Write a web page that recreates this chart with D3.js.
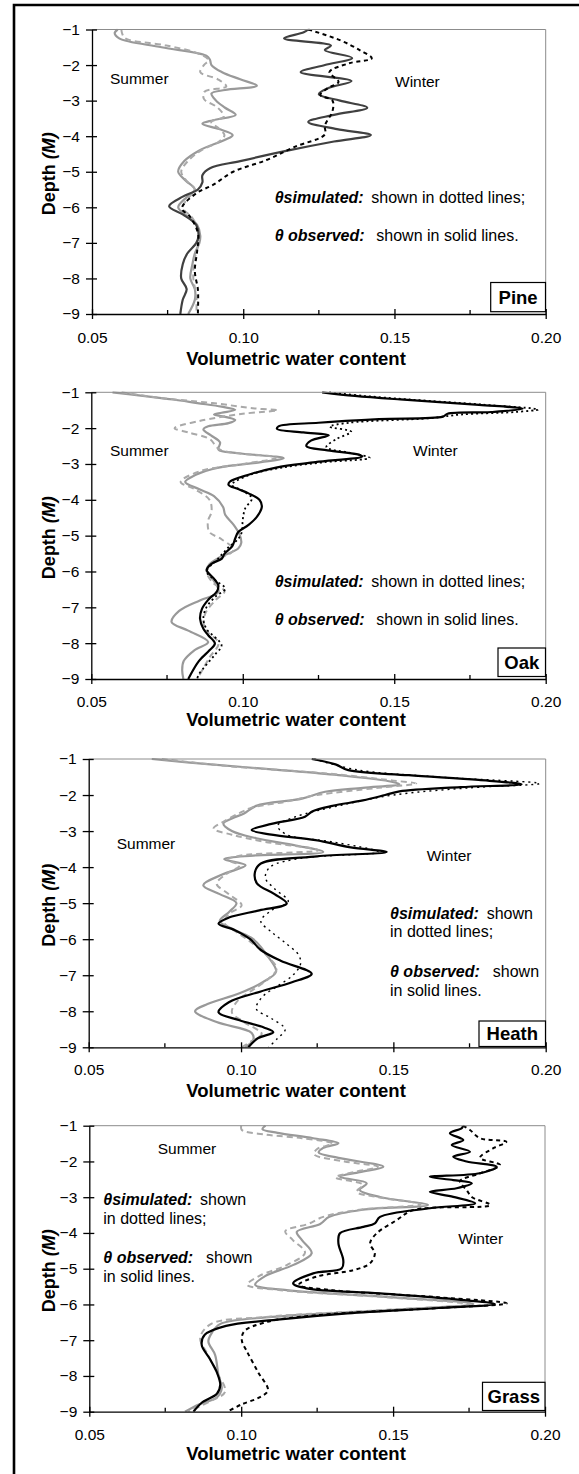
<!DOCTYPE html>
<html>
<head>
<meta charset="utf-8">
<script src="https://cdn.jsdelivr.net/npm/d3@7"></script>
<style>
body { margin: 0; background: #fff; }
svg text { font-family: "Liberation Sans", Arial, sans-serif; fill: #000; }
</style>
</head>
<body>
<svg id="fig" width="579" height="1474"></svg>
<script>
/*jslint browser, white */
/*global d3 */

//Stand names, axis ticks
var panelNames = ["Pine", "Oak", "Heath", "Grass"];
var waterTicks = [0.05, 0.10, 0.15, 0.20];
var waterMinorTicks = [0.075, 0.125, 0.175];
var depthTicks = [-1, -2, -3, -4, -5, -6, -7, -8, -9];

//[depth (m), volumetric water content]
var pineSummerObs = [[-1.0,0.0585],[-1.1,0.0575],[-1.25,0.059],[-1.5,0.073],[-1.74,0.0878],
    [-1.85,0.089],[-2.0,0.0895],[-2.2,0.093],[-2.4,0.099],[-2.58,0.1045],[-2.7,0.094],
    [-2.8,0.0895],[-3.0,0.091],[-3.2,0.094],[-3.4,0.0975],[-3.55,0.090],[-3.65,0.0865],
    [-3.8,0.092],[-3.97,0.0965],[-4.1,0.094],[-4.4,0.0855],[-4.7,0.0805],[-5.0,0.0785],
    [-5.25,0.081],[-5.5,0.084],[-5.7,0.0815],[-6.0,0.0785],[-6.25,0.0815],[-6.5,0.0848],
    [-6.8,0.0858],[-7.0,0.0855],[-7.3,0.084],[-7.6,0.0832],[-8.0,0.0825],[-8.3,0.084],
    [-8.6,0.084],[-9.0,0.0818]];
var pineSummerSim = [[-1.0,0.0597],[-1.12,0.060],[-1.25,0.061],[-1.45,0.0746],[-1.67,0.085],
    [-1.86,0.0885],[-2.0,0.087],[-2.2,0.0858],[-2.4,0.0916],[-2.6,0.0944],[-2.75,0.0872],
    [-2.95,0.087],[-3.2,0.0916],[-3.45,0.0936],[-3.6,0.0894],[-3.8,0.0922],[-3.97,0.0938],
    [-4.15,0.092],[-4.4,0.0861],[-4.7,0.0817],[-5.0,0.0795],[-5.25,0.0812],[-5.5,0.084],
    [-5.75,0.0817],[-6.0,0.080],[-6.3,0.0832],[-6.6,0.085],[-7.0,0.0852],[-7.5,0.0838],
    [-8.0,0.0835],[-8.5,0.0845],[-9.0,0.0845]];
var pineWinterObs = [[-1.0,0.1215],[-1.08,0.120],[-1.25,0.1135],[-1.45,0.129],[-1.58,0.127],
    [-1.8,0.136],[-2.0,0.127],[-2.2,0.119],[-2.45,0.1358],[-2.65,0.128],[-2.82,0.125],
    [-3.0,0.132],[-3.2,0.141],[-3.4,0.130],[-3.6,0.1215],[-3.8,0.131],[-3.97,0.1422],
    [-4.15,0.130],[-4.4,0.115],[-4.7,0.099],[-4.9,0.089],[-5.1,0.0865],[-5.3,0.0865],
    [-5.5,0.085],[-5.7,0.080],[-5.97,0.0755],[-6.2,0.080],[-6.5,0.0845],[-6.8,0.0852],
    [-7.0,0.0845],[-7.3,0.0815],[-7.6,0.080],[-8.0,0.0795],[-8.3,0.0813],[-8.6,0.080],
    [-9.0,0.0792]];
var pineWinterSim = [[-1.0,0.1215],[-1.3,0.132],[-1.58,0.1385],[-1.81,0.1425],[-1.95,0.135],
    [-2.2,0.1285],[-2.47,0.1315],[-2.65,0.128],[-2.84,0.1255],[-3.0,0.1295],[-3.3,0.1295],
    [-3.7,0.127],[-3.95,0.127],[-4.3,0.117],[-4.67,0.1077],[-5.0,0.0967],[-5.37,0.090],
    [-5.6,0.0846],[-6.03,0.0797],[-6.26,0.0824],[-6.75,0.0851],[-7.2,0.0848],[-7.8,0.084],
    [-8.3,0.085],[-8.6,0.0851],[-9.0,0.085]];

var oakSummerObs = [[-1.0,0.057],[-1.1,0.067],[-1.2,0.077],[-1.3,0.085],[-1.4,0.093],
    [-1.49,0.0975],[-1.57,0.093],[-1.62,0.0905],[-1.7,0.095],[-1.77,0.0975],[-1.86,0.0953],
    [-1.95,0.0886],[-2.04,0.087],[-2.2,0.0895],[-2.4,0.0925],[-2.6,0.092],[-2.7,0.0985],
    [-2.84,0.1135],[-2.95,0.106],[-3.1,0.092],[-3.3,0.0845],[-3.5,0.081],[-3.7,0.0855],
    [-3.9,0.0905],[-4.2,0.0935],[-4.42,0.0942],[-4.7,0.097],[-4.98,0.099],[-5.2,0.0995],
    [-5.36,0.0985],[-5.6,0.0925],[-5.8,0.089],[-5.96,0.0881],[-6.2,0.090],[-6.57,0.092],
    [-6.8,0.086],[-7.1,0.079],[-7.41,0.0765],[-7.65,0.082],[-7.97,0.0886],[-8.2,0.084],
    [-8.5,0.0805],[-8.75,0.080],[-9.0,0.0804]];
var oakSummerSim = [[-1.0,0.060],[-1.15,0.072],[-1.3,0.090],[-1.45,0.104],[-1.5,0.1115],
    [-1.6,0.100],[-1.8,0.0857],[-2.0,0.0775],[-2.12,0.082],[-2.3,0.089],[-2.6,0.0925],
    [-2.82,0.111],[-3.0,0.100],[-3.2,0.086],[-3.5,0.0795],[-3.7,0.084],[-4.0,0.089],
    [-4.33,0.0897],[-4.6,0.0885],[-4.9,0.089],[-5.1,0.093],[-5.4,0.097],[-5.7,0.091],
    [-5.96,0.088],[-6.3,0.090],[-6.55,0.094],[-6.8,0.091],[-7.2,0.0875],[-7.6,0.0875],
    [-8.0,0.092],[-8.4,0.089],[-9.0,0.085]];
var oakWinterObs = [[-1.0,0.1262],[-1.1,0.137],[-1.2,0.152],[-1.35,0.178],[-1.46,0.1924],
    [-1.55,0.182],[-1.6,0.1676],[-1.68,0.166],[-1.75,0.145],[-1.85,0.125],[-1.95,0.1118],
    [-2.02,0.1113],[-2.12,0.120],[-2.2,0.1284],[-2.35,0.1225],[-2.5,0.121],[-2.62,0.128],
    [-2.74,0.1383],[-2.79,0.1394],[-2.95,0.124],[-3.1,0.111],[-3.3,0.1019],[-3.49,0.0958],
    [-3.58,0.0953],[-3.7,0.0985],[-3.82,0.1019],[-4.0,0.1055],[-4.19,0.1063],[-4.47,0.1047],
    [-4.7,0.1019],[-4.9,0.0985],[-5.08,0.0975],[-5.3,0.0965],[-5.5,0.094],[-5.64,0.0931],
    [-5.78,0.0898],[-5.96,0.0881],[-6.2,0.0905],[-6.38,0.0919],[-6.55,0.0915],[-6.8,0.0885],
    [-7.05,0.0865],[-7.32,0.0859],[-7.6,0.087],[-7.78,0.0886],[-8.01,0.0908],[-8.2,0.089],
    [-8.5,0.0855],[-9.0,0.082]];
var oakWinterSim = [[-1.0,0.1285],[-1.1,0.140],[-1.2,0.155],[-1.35,0.180],[-1.48,0.1975],
    [-1.55,0.190],[-1.62,0.172],[-1.72,0.162],[-1.85,0.135],[-1.96,0.1287],[-2.1,0.1358],
    [-2.3,0.131],[-2.53,0.1276],[-2.7,0.136],[-2.83,0.1419],[-2.95,0.127],[-3.1,0.113],
    [-3.3,0.1025],[-3.58,0.0964],[-3.75,0.100],[-3.96,0.103],[-4.24,0.1008],[-4.55,0.100],
    [-4.89,0.0997],[-5.08,0.0986],[-5.35,0.095],[-5.64,0.0919],[-6.0,0.0881],[-6.25,0.091],
    [-6.48,0.0942],[-6.7,0.091],[-7.0,0.088],[-7.32,0.087],[-7.6,0.088],[-8.06,0.093],
    [-8.3,0.091],[-8.6,0.088],[-8.9,0.0853],[-9.0,0.085]];

var heathSummerObs = [[-1.0,0.0707],[-1.15,0.090],[-1.3,0.112],[-1.45,0.132],[-1.63,0.1494],
    [-1.7,0.152],[-1.8,0.140],[-1.91,0.1276],[-2.1,0.120],[-2.3,0.105],[-2.51,0.101],
    [-2.65,0.097],[-2.79,0.0942],[-3.0,0.097],[-3.2,0.105],[-3.4,0.118],[-3.58,0.127],
    [-3.68,0.104],[-3.78,0.0945],[-3.95,0.1015],[-4.2,0.094],[-4.5,0.0876],[-4.75,0.093],
    [-5.0,0.0985],[-5.25,0.096],[-5.5,0.093],[-5.75,0.098],[-6.0,0.104],[-6.5,0.109],
    [-6.9,0.1115],[-7.2,0.107],[-7.5,0.0995],[-7.8,0.089],[-8.0,0.0849],[-8.3,0.092],
    [-8.6,0.1035],[-8.8,0.104],[-9.0,0.1013]];
var heathSummerSim = [[-1.0,0.074],[-1.2,0.096],[-1.4,0.128],[-1.6,0.150],[-1.68,0.1575],
    [-1.8,0.145],[-2.0,0.125],[-2.19,0.1144],[-2.35,0.1035],[-2.5,0.0995],[-2.75,0.094],
    [-2.93,0.091],[-3.1,0.097],[-3.3,0.108],[-3.53,0.1254],[-3.68,0.100],[-3.8,0.0955],
    [-3.95,0.0995],[-4.2,0.095],[-4.46,0.092],[-4.75,0.096],[-5.06,0.1002],[-5.3,0.096],
    [-5.55,0.0945],[-5.8,0.0985],[-6.1,0.1035],[-6.5,0.109],[-6.82,0.1117],[-7.1,0.109],
    [-7.4,0.104],[-7.7,0.099],[-8.03,0.097],[-8.3,0.101],[-8.63,0.1068],[-8.8,0.104],
    [-9.0,0.1002]];
var heathWinterObs = [[-1.0,0.1232],[-1.15,0.131],[-1.31,0.1352],[-1.45,0.155],[-1.58,0.178],
    [-1.7,0.1921],[-1.78,0.172],[-1.9,0.152],[-2.0,0.1473],[-2.15,0.140],[-2.3,0.130],
    [-2.45,0.1235],[-2.6,0.121],[-2.8,0.110],[-2.97,0.1035],[-3.1,0.110],[-3.25,0.1245],
    [-3.45,0.136],[-3.58,0.1478],[-3.7,0.125],[-3.9,0.1065],[-4.13,0.1046],[-4.45,0.1052],
    [-4.75,0.111],[-5.01,0.115],[-5.2,0.106],[-5.4,0.096],[-5.57,0.0926],[-5.75,0.098],
    [-6.0,0.103],[-6.3,0.1065],[-6.6,0.113],[-6.96,0.1232],[-7.2,0.1165],[-7.45,0.1065],
    [-7.75,0.096],[-8.03,0.0926],[-8.25,0.0995],[-8.45,0.1075],[-8.58,0.1106],[-8.75,0.1055],
    [-9.0,0.1024]];
var heathWinterSim = [[-1.0,0.124],[-1.3,0.138],[-1.5,0.165],[-1.68,0.198],[-1.8,0.175],
    [-2.0,0.150],[-2.3,0.132],[-2.6,0.118],[-2.85,0.112],[-3.1,0.115],[-3.3,0.130],
    [-3.58,0.145],[-3.75,0.120],[-4.0,0.1095],[-4.3,0.108],[-4.6,0.111],[-4.95,0.1155],
    [-5.2,0.110],[-5.5,0.1065],[-5.8,0.110],[-6.1,0.1145],[-6.45,0.119],[-6.7,0.1195],
    [-7.0,0.117],[-7.3,0.112],[-7.6,0.107],[-7.93,0.105],[-8.2,0.110],[-8.5,0.1145],
    [-8.75,0.112],[-9.0,0.109]];

var grassSummerObs = [[-1.0,0.108],[-1.1,0.107],[-1.2,0.112],[-1.35,0.1237],[-1.49,0.132],
    [-1.62,0.127],[-1.75,0.1255],[-1.9,0.132],[-2.15,0.1468],[-2.3,0.139],[-2.43,0.1325],
    [-2.61,0.1413],[-2.8,0.139],[-3.0,0.146],[-3.22,0.1615],[-3.35,0.140],[-3.55,0.129],
    [-3.75,0.126],[-3.97,0.1183],[-4.2,0.120],[-4.57,0.1232],[-4.9,0.117],[-5.2,0.108],
    [-5.45,0.1046],[-5.6,0.115],[-5.8,0.150],[-5.99,0.1764],[-6.15,0.150],[-6.35,0.110],
    [-6.55,0.093],[-6.8,0.0903],[-7.04,0.0892],[-7.41,0.0914],[-7.97,0.0925],[-8.35,0.0936],
    [-8.6,0.092],[-8.8,0.086],[-9.0,0.0815]];
var grassSummerSim = [[-1.0,0.100],[-1.12,0.1002],[-1.25,0.108],[-1.35,0.120],[-1.5,0.130],
    [-1.65,0.125],[-1.8,0.124],[-2.0,0.134],[-2.15,0.145],[-2.3,0.137],[-2.45,0.131],
    [-2.65,0.140],[-2.85,0.138],[-3.0,0.145],[-3.2,0.159],[-3.35,0.139],[-3.55,0.127],
    [-3.75,0.122],[-3.95,0.1145],[-4.2,0.117],[-4.55,0.121],[-4.9,0.115],[-5.2,0.106],
    [-5.45,0.102],[-5.6,0.113],[-5.8,0.148],[-6.0,0.175],[-6.15,0.148],[-6.35,0.108],
    [-6.55,0.090],[-6.94,0.0865],[-7.4,0.089],[-7.9,0.092],[-8.44,0.0947],[-8.7,0.090],
    [-9.0,0.0825]];
var grassWinterObs = [[-1.0,0.173],[-1.07,0.1726],[-1.21,0.1687],[-1.4,0.1731],[-1.54,0.1693],
    [-1.73,0.1753],[-1.87,0.1698],[-2.0,0.1742],[-2.15,0.1841],[-2.33,0.1786],[-2.43,0.1621],
    [-2.52,0.1698],[-2.61,0.1759],[-2.75,0.1709],[-2.85,0.1621],[-2.99,0.1698],[-3.17,0.177],
    [-3.31,0.1621],[-3.55,0.1457],[-3.73,0.144],[-3.83,0.1402],[-4.01,0.1325],[-4.29,0.132],
    [-4.76,0.1336],[-4.99,0.1331],[-5.13,0.1237],[-5.41,0.1171],[-5.55,0.1216],[-5.69,0.1457],
    [-5.85,0.170],[-5.99,0.1835],[-6.1,0.165],[-6.25,0.135],[-6.42,0.1128],[-6.6,0.095],
    [-6.85,0.088],[-7.13,0.087],[-7.5,0.0895],[-7.9,0.092],[-8.25,0.0931],[-8.5,0.092],
    [-8.75,0.087],[-9.0,0.0843]];
var grassWinterSim = [[-1.0,0.173],[-1.12,0.1753],[-1.35,0.1786],[-1.45,0.1873],[-1.63,0.183],
    [-1.9,0.1786],[-2.1,0.1852],[-2.35,0.178],[-2.55,0.172],[-2.8,0.1742],[-3.0,0.176],
    [-3.22,0.182],[-3.36,0.1567],[-3.64,0.1512],[-4.01,0.1446],[-4.29,0.1424],[-4.57,0.144],
    [-4.85,0.1424],[-5.04,0.1369],[-5.22,0.1249],[-5.45,0.119],[-5.6,0.130],[-5.8,0.165],
    [-5.97,0.1874],[-6.1,0.165],[-6.3,0.125],[-6.5,0.108],[-6.75,0.101],[-7.0,0.1002],
    [-7.3,0.1018],[-7.9,0.1056],[-8.4,0.1088],[-8.6,0.106],[-8.8,0.100],[-9.0,0.0955]];


var app = (function () {
    "use strict";

    var svg,
        layout = [
            {top:29.5, bottom:314, left:92, right:545.7, tickY:343, titleY:365,
             summer:[110, 84], winter:[395, 86.5], leg:"wide", legX:274.7,
             legY:[202.8, 240.5], box:[490.7, 282.5, 545.5, 311.7], wintCol:"#404040",
             simDash:"4,3.5", simW:2},
            {top:392.3, bottom:679, left:91.3, right:545.7, tickY:706.5, titleY:726,
             summer:[110, 456.2], winter:[413, 456.2], leg:"wide", legX:274.7,
             legY:[586.8, 624.5], box:[498, 648, 545.5, 676.5], wintCol:"#000",
             simDash:"2,3", simW:1.8},
            {top:759, bottom:1047.3, left:88.7, right:545.7, tickY:1075, titleY:1097,
             summer:[116.7, 848.8], winter:[426.7, 860.5], leg:"tall", legX:390,
             legY:[918.8, 937.2, 977.2, 995.5], box:[479, 1021, 545.5, 1046.5],
             wintCol:"#000", simDash:"2,4", simW:1.4},
            {top:1125.7, bottom:1411.7, left:89.3, right:545, tickY:1440, titleY:1460,
             summer:[157.7, 1154.2], winter:[458.3, 1243.8], leg:"tall", legX:103.3,
             legY:[1204.8, 1224.2, 1262.5, 1281.5], box:[482.5, 1382.3, 545, 1410.5],
             wintCol:"#000", simDash:"4,3.5", simW:2}],
        panelData = [
            {so:pineSummerObs, ss:pineSummerSim, wo:pineWinterObs, ws:pineWinterSim},
            {so:oakSummerObs, ss:oakSummerSim, wo:oakWinterObs, ws:oakWinterSim},
            {so:heathSummerObs, ss:heathSummerSim, wo:heathWinterObs, ws:heathWinterSim},
            {so:grassSummerObs, ss:grassSummerSim, wo:grassWinterObs, ws:grassWinterSim}];


    function addText (g, x, y, str, size, weight, anchor) {
        return g.append("text")
            .attr("x", x)
            .attr("y", y)
            .attr("font-size", size)
            .attr("font-weight", weight || "normal")
            .attr("text-anchor", anchor || "start")
            .text(str);
    }


    function drawAxes (g, x, y, lay) {
        var xax, yax;
        //grey frame on top and right like the excel plot area
        g.append("path")
            .attr("d", "M" + lay.left + "," + lay.top + "H" + lay.right + "V" + lay.bottom)
            .attr("fill", "none")
            .attr("stroke", "#8c8c8c")
            .attr("stroke-width", 1);
        yax = g.append("g")
            .attr("transform", "translate(" + lay.left + ",0)")
            .call(d3.axisLeft(y).tickValues(depthTicks).tickSize(6).tickSizeOuter(0)
                  .tickPadding(6).tickFormat(d3.format("d")));
        yax.selectAll(".tick line").attr("x1", 5);
        xax = g.append("g")
            .attr("transform", "translate(0," + lay.bottom + ")")
            .call(d3.axisBottom(x).tickValues(waterTicks).tickSize(5).tickSizeOuter(0)
                  .tickPadding(lay.tickY - lay.bottom - 16).tickFormat(d3.format(".2f")));
        xax.selectAll(".tick line").attr("y1", -5);
        xax.selectAll(".minor").data(waterMinorTicks).enter().append("line")
            .attr("class", "minor")
            .attr("x1", function (d) { return x(d); })
            .attr("x2", function (d) { return x(d); })
            .attr("y1", 0)
            .attr("y2", -4)
            .attr("stroke", "#000");
        [xax, yax].forEach(function (ax) {
            ax.selectAll("path, line").attr("stroke", "#000").attr("stroke-width", 1.3);
            ax.selectAll("text")
                .attr("font-size", 15.5)
                .attr("font-family", "'Liberation Sans', Arial, sans-serif")
                .attr("fill", "#000"); });
    }


    function drawSeries (g, x, y, pd, lay, idx) {
        var line, defs, clipId = "clip" + idx, cg, specs;
        defs = g.append("defs");
        defs.append("clipPath").attr("id", clipId)
            .append("rect")
            .attr("x", lay.left)
            .attr("y", lay.top - 1)
            .attr("width", lay.right - lay.left + 1)
            .attr("height", lay.bottom - lay.top + 1);
        line = d3.line()
            .x(function (d) { return x(d[1]); })
            .y(function (d) { return y(d[0]); })
            .curve(d3.curveCatmullRom.alpha(0.5));
        specs = [
            {data:pd.so, col:"#999999", w:2.2, dash:null},
            {data:pd.ss, col:"#a9a9a9", w:2, dash:"6,4"},
            {data:pd.wo, col:lay.wintCol, w:2.2, dash:null},
            {data:pd.ws, col:"#000", w:lay.simW, dash:lay.simDash}];
        cg = g.append("g").attr("clip-path", "url(#" + clipId + ")");
        specs.forEach(function (s) {
            cg.append("path")
                .datum(s.data)
                .attr("d", line)
                .attr("fill", "none")
                .attr("stroke", s.col)
                .attr("stroke-width", s.w)
                .attr("stroke-dasharray", s.dash)
                .attr("stroke-linejoin", "round"); });
    }


    function drawLegend (g, lay) {
        var t, fs = 16;
        if(lay.leg === "wide") {
            t = addText(g, lay.legX, lay.legY[0], "", fs);
            t.append("tspan").attr("font-weight", "bold").attr("font-style", "italic")
                .text("\u03b8simulated:");
            t.append("tspan").attr("x", lay.legX + 96.6).text("shown in dotted lines;");
            t = addText(g, lay.legX, lay.legY[1], "", fs);
            t.append("tspan").attr("font-weight", "bold").attr("font-style", "italic")
                .text("\u03b8 observed:");
            t.append("tspan").attr("x", lay.legX + 101.6).text("shown in solid lines.");
            return; }
        t = addText(g, lay.legX, lay.legY[0], "", fs);
        t.append("tspan").attr("font-weight", "bold").attr("font-style", "italic")
            .text("\u03b8simulated:");
        t.append("tspan").attr("x", lay.legX + 96.7).text("shown");
        addText(g, lay.legX, lay.legY[1], "in dotted lines;", fs);
        t = addText(g, lay.legX, lay.legY[2], "", fs);
        t.append("tspan").attr("font-weight", "bold").attr("font-style", "italic")
            .text("\u03b8 observed:");
        t.append("tspan").attr("x", lay.legX + 102.8).text("shown");
        addText(g, lay.legX, lay.legY[3], "in solid lines.", fs);
    }


    function drawLabels (g, lay, name) {
        var t, b = lay.box, cy = (lay.top + lay.bottom) / 2 + 2;
        addText(g, 296, lay.titleY, "Volumetric water content", 18.5, "bold", "middle");
        t = g.append("text")
            .attr("transform", "translate(55," + cy + ") rotate(-90)")
            .attr("text-anchor", "middle")
            .attr("font-size", 18)
            .attr("font-weight", "bold");
        t.append("tspan").text("Depth ");
        t.append("tspan").attr("font-style", "italic").text("(M)");
        addText(g, lay.summer[0], lay.summer[1], "Summer", 15.5);
        addText(g, lay.winter[0], lay.winter[1], "Winter", 15.5);
        drawLegend(g, lay);
        g.append("rect")
            .attr("x", b[0]).attr("y", b[1])
            .attr("width", b[2] - b[0]).attr("height", b[3] - b[1])
            .attr("fill", "#fff")
            .attr("stroke", "#000")
            .attr("stroke-width", 1.2);
        addText(g, (b[0] + b[2]) / 2, (b[1] + b[3]) / 2 + 6.5, name, 18.5, "bold", "middle");
    }


    function drawPanel (name, idx) {
        var lay = layout[idx], g, x, y;
        g = svg.append("g").attr("class", "panel");
        x = d3.scaleLinear().domain([0.05, 0.20]).range([lay.left, lay.right]);
        y = d3.scaleLinear().domain([-1, -9]).range([lay.top, lay.bottom]);
        drawSeries(g, x, y, panelData[idx], lay, idx);
        drawAxes(g, x, y, lay);
        drawLabels(g, lay, name);
    }


return {
    init: function () {
        svg = d3.select("#fig");
        svg.append("rect").attr("width", 579).attr("height", 1474).attr("fill", "#fff");
        //outer figure frame, only the top and left edges show in the crop
        svg.append("path")
            .attr("d", "M14,1474V5H579")
            .attr("fill", "none")
            .attr("stroke", "#000")
            .attr("stroke-width", 2.6);
        panelNames.forEach(drawPanel);
    }
};
}());

app.init();
</script>
</body>
</html>
